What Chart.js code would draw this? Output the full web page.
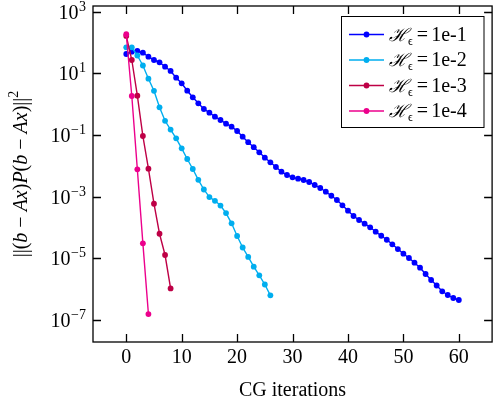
<!DOCTYPE html>
<html>
<head>
<meta charset="utf-8">
<script src="https://cdn.jsdelivr.net/npm/chart.js@4.4.1/dist/chart.umd.min.js"></script>
<style>
  body { margin: 0; background: #fff; }
  canvas { display: block; }
</style>
</head>
<body>
<canvas id="myChart" width="495" height="405"></canvas>
<script>
// residual norm per CG iteration, one array per tolerance
const seriesLabels = ['1e-1', '1e-2', '1e-3', '1e-4'];
const seriesColors = ['#0000ff', '#00aeef', '#be0046', '#ec008c'];

const resTol1 = [42.4, 50.2, 53.0, 46.7, 34.6, 27.0, 22.8, 16.4, 11.9, 7.19,
  4.73, 2.72, 1.66, 1.06, 0.693, 0.526, 0.390, 0.305, 0.231, 0.185,
  0.134, 0.0875, 0.0579, 0.0399, 0.0272, 0.0182, 0.0129, 0.00908, 0.00638, 0.00499,
  0.00420, 0.00378, 0.00344, 0.00296, 0.00236, 0.00189, 0.00143, 0.00106, 7.69e-4, 5.18e-4,
  3.46e-4, 2.33e-4, 1.73e-4, 1.31e-4, 1.00e-4, 7.19e-5, 5.33e-5, 3.95e-5, 2.81e-5, 1.97e-5,
  1.39e-5, 1.01e-5, 7.10e-6, 4.88e-6, 3.05e-6, 1.95e-6, 1.29e-6, 8.36e-7, 6.34e-7, 5.06e-7,
  4.37e-7];
const resTol2 = [69.8, 69.8, 37.8, 17.9, 6.68, 2.70, 0.787, 0.287, 0.149, 0.0776,
  0.0367, 0.0165, 0.00782, 0.00348, 0.00169, 9.57e-4, 7.24e-4, 5.07e-4, 2.89e-4, 1.35e-4,
  5.22e-5, 2.21e-5, 1.09e-5, 5.26e-6, 2.77e-6, 1.39e-6, 6.19e-7];
const resTol3 = [163, 27.0, 1.87, 0.0920, 0.00800, 5.83e-4, 6.19e-5, 1.26e-5, 1.04e-6];
const resTol4 = [185, 1.83, 0.00764, 3.02e-5, 1.53e-7];

const xTicks = [0, 10, 20, 30, 40, 50, 60];
const yTickExp = [3, 1, -1, -3, -5, -7];

const FONT = '"Liberation Serif", "DejaVu Serif", serif';

const allSeries = [resTol1, resTol2, resTol3, resTol4];
const datasets = allSeries.map((vals, k) => ({
  label: seriesLabels[k],
  data: vals.map((v, i) => ({ x: i, y: v })),
  borderColor: seriesColors[k],
  backgroundColor: seriesColors[k],
  borderWidth: 1.4,
  pointRadius: 2.9,
  pointBorderWidth: 0,
  pointHoverRadius: 2.9,
  order: 3 - k,
  tension: 0,
}));

// frame, inward ticks, y labels with exponents, y title, legend
const decorations = {
  id: 'decorations',
  afterDraw(chart) {
    const ctx = chart.ctx;
    const a = chart.chartArea;
    const xs = chart.scales.x, ys = chart.scales.y;
    ctx.save();
    ctx.strokeStyle = '#000';
    ctx.lineWidth = 1.3;
    ctx.strokeRect(a.left, a.top, a.right - a.left, a.bottom - a.top);

    const tl = 8;
    ctx.beginPath();
    xTicks.forEach(t => {
      const px = Math.round(xs.getPixelForValue(t)) + 0.5;
      ctx.moveTo(px, a.bottom); ctx.lineTo(px, a.bottom - tl);
      ctx.moveTo(px, a.top); ctx.lineTo(px, a.top + tl);
    });
    yTickExp.forEach(e => {
      const py = Math.round(ys.getPixelForValue(Math.pow(10, e))) + 0.5;
      ctx.moveTo(a.left, py); ctx.lineTo(a.left + tl, py);
      ctx.moveTo(a.right, py); ctx.lineTo(a.right - tl, py);
    });
    ctx.stroke();

    // y tick labels 10^e
    ctx.fillStyle = '#000';
    ctx.textBaseline = 'alphabetic';
    yTickExp.forEach(e => {
      const py = ys.getPixelForValue(Math.pow(10, e));
      const expTxt = e < 0 ? '\u2212' + Math.abs(e) : String(e);
      ctx.font = '14px ' + FONT;
      const ew = ctx.measureText(expTxt).width;
      ctx.font = '20px ' + FONT;
      const bw = ctx.measureText('10').width;
      const right = 86;
      ctx.fillText('10', right - ew - bw - 0.5, py + 7);
      ctx.font = '14px ' + FONT;
      ctx.fillText(expTxt, right - ew, py - 1);
    });

    // y axis title
    const segs = [['||(', 'n'], ['b', 'i'], [' \u2212 ', 'n'], ['Ax', 'i'], [')', 'n'], ['P', 'i'],
      ['(', 'n'], ['b', 'i'], [' \u2212 ', 'n'], ['Ax', 'i'], [')||', 'n'], ['2', 's']];
    const fontOf = s => s === 'i' ? 'italic 20px ' + FONT : (s === 's' ? '14px ' + FONT : '20px ' + FONT);
    let total = 0;
    segs.forEach(([t, s]) => { ctx.font = fontOf(s); total += ctx.measureText(t).width; });
    ctx.save();
    ctx.translate(27, 174);
    ctx.rotate(-Math.PI / 2);
    let cx = -total / 2;
    segs.forEach(([t, s]) => {
      ctx.font = fontOf(s);
      ctx.fillText(t, cx, s === 's' ? -9 : 0);
      cx += ctx.measureText(t).width;
    });
    ctx.restore();

    // legend
    ctx.lineWidth = 1;
    ctx.strokeRect(341.5, 16.5, 142.5, 111);
    chart.data.datasets.forEach((ds, k) => {
      const ly = 34.5 + k * 25.5;
      ctx.strokeStyle = ds.borderColor;
      ctx.lineWidth = 1.6;
      ctx.beginPath(); ctx.moveTo(349, ly); ctx.lineTo(384, ly); ctx.stroke();
      ctx.fillStyle = ds.borderColor;
      ctx.beginPath(); ctx.arc(366.5, ly, 2.9, 0, Math.PI * 2); ctx.fill();
      ctx.fillStyle = '#000';
      let tx = 389;
      ctx.font = 'italic 18px ' + FONT;
      ctx.fillText('\u210B', tx, ly + 6);
      tx += ctx.measureText('\u210B').width;
      ctx.font = '12px ' + FONT;
      ctx.fillText('\u03F5', tx, ly + 10);
      tx += ctx.measureText('\u03F5').width + 4;
      ctx.font = '20px ' + FONT;
      ctx.fillText('=', tx, ly + 6);
      tx += ctx.measureText('=').width + 3;
      ctx.fillText(ds.label, tx, ly + 6);
    });
    ctx.restore();
  }
};

new Chart(document.getElementById('myChart').getContext('2d'), {
  type: 'line',
  data: { datasets },
  options: {
    responsive: false,
    animation: false,
    devicePixelRatio: 1,
    layout: { padding: { left: 0, top: 6, right: 1, bottom: 0 } },
    plugins: { legend: { display: false }, tooltip: { enabled: false } },
    scales: {
      x: {
        type: 'linear',
        min: -6,
        max: 66,
        grid: { display: false, drawTicks: false },
        border: { display: false },
        afterBuildTicks: s => { s.ticks = xTicks.map(v => ({ value: v })); },
        afterFit: s => { s.height = 63; },
        ticks: { color: '#000', padding: 4, maxRotation: 0, font: { family: FONT, size: 20 } },
        title: {
          display: true,
          text: 'CG iterations',
          color: '#000',
          font: { family: FONT, size: 20 },
          padding: { top: 0, bottom: 2 },
        },
      },
      y: {
        type: 'logarithmic',
        min: 1.89e-8,
        max: 1531,
        grid: { display: false, drawTicks: false },
        border: { display: false },
        afterBuildTicks: s => { s.ticks = yTickExp.map(e => ({ value: Math.pow(10, e) })); },
        afterFit: s => { s.width = 93; },
        ticks: { display: false },
      },
    },
  },
  plugins: [decorations],
});
</script>
</body>
</html>
